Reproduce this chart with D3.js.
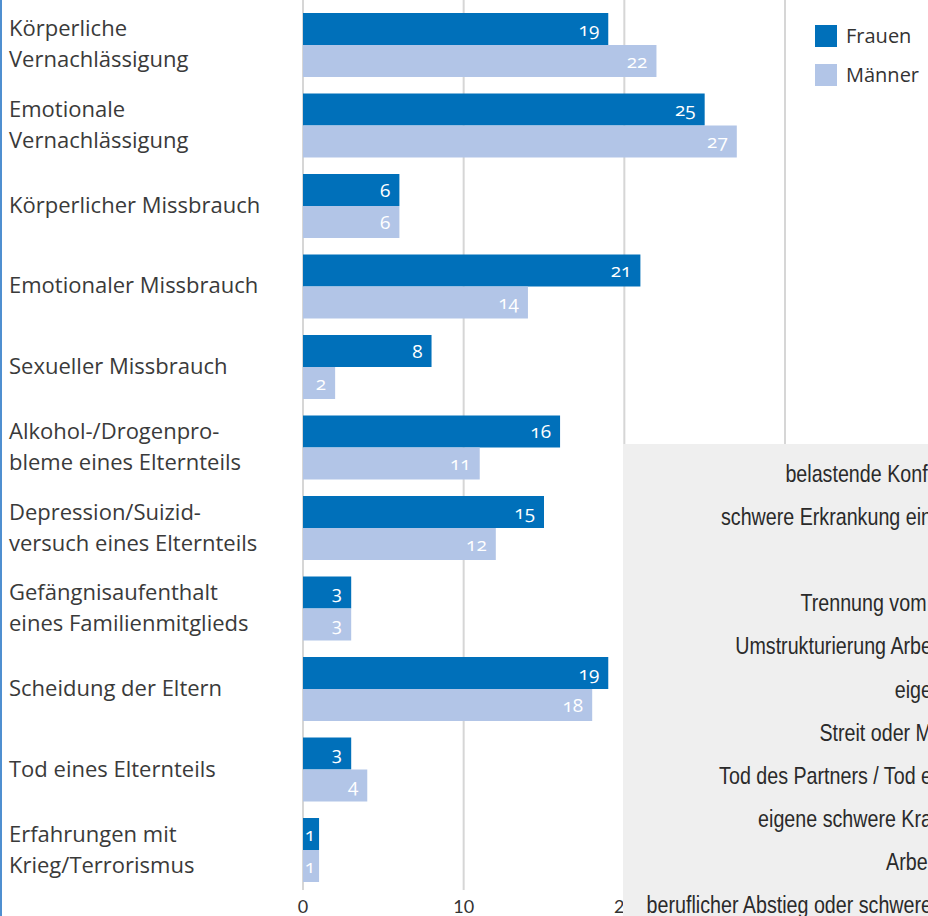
<!DOCTYPE html>
<html>
<head>
<meta charset="utf-8">
<script src="https://cdn.jsdelivr.net/npm/d3@7"></script>
<style>
  body { margin: 0; background: #fff; }
  svg { display: block; }
</style>
</head>
<body>
<div id="chart"></div>
<script>
// categories (label lines) and values in percent
var categories = [
  ["Körperliche", "Vernachlässigung"],
  ["Emotionale", "Vernachlässigung"],
  ["Körperlicher Missbrauch"],
  ["Emotionaler Missbrauch"],
  ["Sexueller Missbrauch"],
  ["Alkohol-/Drogenpro-", "bleme eines Elternteils"],
  ["Depression/Suizid-", "versuch eines Elternteils"],
  ["Gefängnisaufenthalt", "eines Familienmitglieds"],
  ["Scheidung der Eltern"],
  ["Tod eines Elternteils"],
  ["Erfahrungen mit", "Krieg/Terrorismus"]
]
var series = ["Frauen", "Männer"]
var frauen = [19, 25, 6, 21, 8, 16, 15, 3, 19, 3, 1]
var maenner = [22, 27, 6, 14, 2, 11, 12, 3, 18, 4, 1]
var gridTicks = [0, 10, 20, 30]
var tickLabels = [0, 10, 20]

// labels of the neighbouring chart that peeks in at the lower right
var otherLabels = [
  "belastende Konfl",
  "schwere Erkrankung ein",
  "",
  "Trennung vom ",
  "Umstrukturierung Arbe",
  "eige",
  "Streit oder M",
  "Tod des Partners / Tod e",
  "eigene schwere Kra",
  "Arbei",
  "beruflicher Abstieg oder schwere"
]

var colors = { "Frauen": "#0070ba", "Männer": "#b2c5e7" }
var width = 928, height = 916
var font = "'Open Sans', 'Noto Sans', sans-serif"

var data = categories.map(function(c, i) {
  return { key: c.join(" "), lines: c, values: [
    { s: "Frauen", v: frauen[i] },
    { s: "Männer", v: maenner[i] }
  ] }
})

var svg = d3.select("#chart").append("svg")
  .attr("width", width)
  .attr("height", height)

/* Scales */
var x = d3.scaleLinear().domain([0, 30]).range([303, 785])
var y0 = d3.scaleBand().domain(data.map(d => d.key)).range([13, 882]).paddingInner(0.205).paddingOuter(0)
var y1 = d3.scaleBand().domain(series).range([0, y0.bandwidth()])

/* left blue border */
svg.append("line")
  .attr("x1", 1).attr("x2", 1).attr("y1", 0).attr("y2", height)
  .attr("stroke", "#4f8fd0").attr("stroke-width", 2)

/* Grid lines */
svg.append("g").selectAll("line")
  .data(gridTicks).enter()
  .append("line")
  .attr("x1", d => x(d)).attr("x2", d => x(d))
  .attr("y1", 0).attr("y2", 890)
  .attr("stroke", "#d6d6d6")
  .attr("stroke-width", 2)

/* Axis tick labels */
svg.append("g").selectAll("text")
  .data(tickLabels).enter()
  .append("text")
  .attr("x", d => x(d))
  .attr("y", 913)
  .attr("text-anchor", "middle")
  .attr("font-family", "Lato, sans-serif")
  .attr("font-size", "18px")
  .attr("fill", "#333")
  .text(d => d)

/* Category labels */
var labels = svg.append("g").selectAll("text")
  .data(data).enter()
  .append("text")
  .attr("font-family", font)
  .attr("font-size", "22px")
  .attr("fill", "#3a3a3a")
  .attr("transform", d => "translate(9," + (y0(d.key) + y0.bandwidth() / 2) + ")")

labels.selectAll("tspan")
  .data(d => d.lines.map((t, i) => ({ t: t, i: i, n: d.lines.length })))
  .enter()
  .append("tspan")
  .attr("x", 0)
  .attr("y", d => (d.i - (d.n - 1) / 2) * 31 + 7)
  .text(d => d.t)

/* Bars */
var groups = svg.append("g").selectAll("g")
  .data(data).enter()
  .append("g")
  .attr("transform", d => "translate(0," + y0(d.key) + ")")

groups.selectAll("rect")
  .data(d => d.values).enter()
  .append("rect")
  .attr("x", x(0))
  .attr("y", d => y1(d.s))
  .attr("width", d => x(d.v) - x(0))
  .attr("height", y1.bandwidth())
  .attr("fill", d => colors[d.s])

groups.selectAll("text")
  .data(d => d.values).enter()
  .append("text")
  .attr("x", d => x(d.v) - (d.v < 2 ? 4 : 9))
  .attr("y", d => y1(d.s) + y1.bandwidth() / 2 + 7)
  .attr("text-anchor", "end")
  .attr("font-family", font)
  .attr("font-size", "19px")
  .style("font-variant-numeric", "oldstyle-nums")
  .attr("fill", "#fff")
  .text(d => d.v)

/* Legend */
var legend = svg.append("g").selectAll("g")
  .data(series).enter()
  .append("g")
  .attr("transform", (d, i) => "translate(815," + (25 + i * 39) + ")")

legend.append("rect")
  .attr("width", 22).attr("height", 22)
  .attr("fill", d => colors[d])

legend.append("text")
  .attr("x", 31).attr("y", 18)
  .attr("font-family", font)
  .attr("font-size", "20px")
  .attr("fill", "#333")
  .text(d => d)

/* Overlapping panel of the next chart */
svg.append("rect")
  .attr("x", 623).attr("y", 444)
  .attr("width", width - 623).attr("height", height - 444)
  .attr("fill", "#efefef")

var yOther = d3.scalePoint().domain(d3.range(otherLabels.length)).range([474, 905])

svg.append("g").selectAll("text")
  .data(otherLabels).enter()
  .append("text")
  .attr("transform", (d, i) => "translate(932," + (yOther(i) + 8) + ") scale(0.82,1)")
  .attr("text-anchor", "end")
  .attr("font-family", "'Liberation Sans', Arial, sans-serif")
  .attr("font-size", "24px")
  .attr("fill", "#2a2a2a")
  .style("white-space", "pre")
  .text(d => d)
</script>
</body>
</html>
